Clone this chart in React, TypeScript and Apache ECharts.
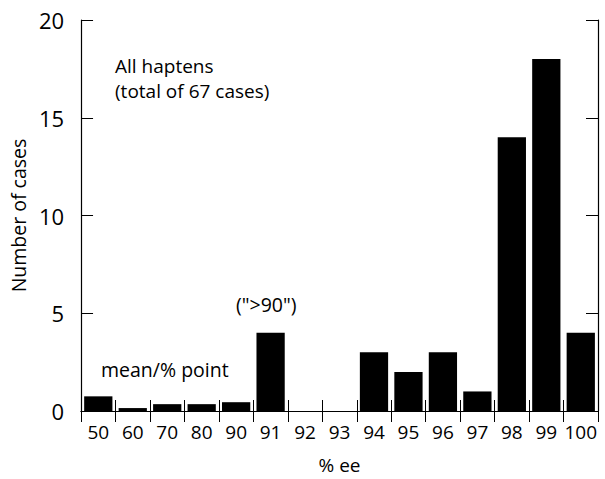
import React, { useEffect, useRef } from "react";
import * as echarts from "echarts";

const categories = ["50", "60", "70", "80", "90", "91", "92", "93", "94", "95", "96", "97", "98", "99", "100"];
const cases = [0.75, 0.15, 0.35, 0.35, 0.45, 4, 0, 0, 3, 2, 3, 1, 14, 18, 4];
const yTicks = { min: 0, max: 20, interval: 5 };
const FONT = "'Open Sans', 'DejaVu Sans', sans-serif";

export default function App() {
  const ref = useRef<HTMLDivElement>(null);
  useEffect(() => {
    if (!ref.current) return;
    const chart = echarts.init(ref.current, undefined, { renderer: "svg" });
    const axisLine = { show: true, lineStyle: { color: "#000", width: 1.2 } };
    chart.setOption({
      animation: false,
      textStyle: { fontFamily: FONT, color: "#000" },
      grid: { left: 81, right: 7, top: 20, bottom: 64 },
      xAxis: [
        {
          type: "category",
          data: categories,
          position: "bottom",
          axisLine,
          axisTick: { show: true, inside: true, length: 11, interval: 0, lineStyle: { color: "#000" } },
          axisLabel: { color: "#000", fontSize: 19, margin: 11, interval: 0, fontFamily: FONT },
          name: "% ee",
          nameLocation: "middle",
          nameGap: 44,
          nameTextStyle: { fontSize: 19, color: "#000", fontFamily: FONT },
        },
        {
          type: "category",
          data: categories,
          position: "top",
          axisLine,
          axisTick: { show: true, inside: true, length: 11, interval: 0, lineStyle: { color: "#000" } },
          axisLabel: { show: false },
        },
      ],
      yAxis: [
        {
          type: "value",
          position: "left",
          ...yTicks,
          axisLine,
          splitLine: { show: false },
          axisTick: { show: true, inside: true, length: 12, lineStyle: { color: "#000" } },
          axisLabel: { color: "#000", fontSize: 22, margin: 17, fontFamily: FONT },
          name: "Number of cases",
          nameLocation: "middle",
          nameGap: 53,
          nameTextStyle: { fontSize: 19.5, color: "#000", fontFamily: FONT },
        },
        {
          type: "value",
          position: "right",
          ...yTicks,
          axisLine,
          splitLine: { show: false },
          axisTick: { show: true, inside: true, length: 12, lineStyle: { color: "#000" } },
          axisLabel: { show: false },
        },
      ],
      series: [
        {
          type: "bar",
          data: cases,
          xAxisIndex: 0,
          yAxisIndex: 0,
          barCategoryGap: "18%",
          itemStyle: { color: "#000" },
        },
      ],
      graphic: [
        { type: "text", left: 115, top: 56, style: { text: "All haptens", fontSize: 19, fontFamily: FONT, fill: "#000" } },
        { type: "text", left: 115, top: 81, style: { text: "(total of 67 cases)", fontSize: 19, fontFamily: FONT, fill: "#000" } },
        { type: "text", left: 236, top: 294, style: { text: '(">90")', fontSize: 19.5, fontFamily: FONT, fill: "#000" } },
        { type: "text", left: 101, top: 359, style: { text: "mean/% point", fontSize: 19.5, fontFamily: FONT, fill: "#000" } },
      ],
    });
    return () => chart.dispose();
  }, []);
  return <div ref={ref} style={{ width: 605, height: 479, position: "absolute", left: 0, top: 0 }} />;
}
